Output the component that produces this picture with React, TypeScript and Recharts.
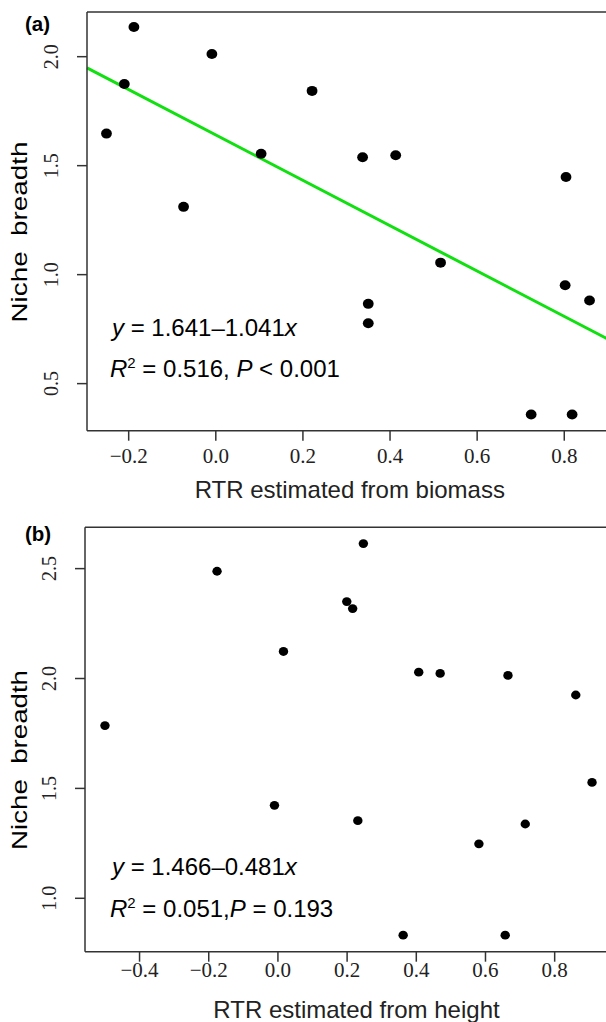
import React from 'react';
import { ScatterChart, Scatter, XAxis, YAxis, ReferenceLine } from 'recharts';

// (a) RTR estimated from biomass vs niche breadth
const biomassRTR = [-0.251, -0.21, -0.188, -0.009, 0.221, 0.104, -0.074, 0.337, 0.413, 0.804, 0.516, 0.802, 0.858, 0.35, 0.35, 0.724, 0.818];
const biomassNiche = [1.647, 1.875, 2.136, 2.012, 1.843, 1.555, 1.311, 1.539, 1.548, 1.448, 1.055, 0.951, 0.881, 0.866, 0.777, 0.358, 0.358];
const biomassFit = { intercept: 1.641, slope: -1.041 };

// (b) RTR estimated from height vs niche breadth
const heightRTR = [-0.5, -0.176, 0.016, 0.199, 0.216, 0.247, 0.407, 0.469, 0.665, 0.861, 0.908, -0.01, 0.231, 0.715, 0.581, 0.362, 0.657];
const heightNiche = [1.786, 2.488, 2.123, 2.35, 2.318, 2.614, 2.029, 2.023, 2.014, 1.925, 1.527, 1.423, 1.353, 1.338, 1.248, 0.832, 0.832];

const biomassTicks = [-0.2, 0, 0.2, 0.4, 0.6, 0.8];
const heightTicks = [-0.4, -0.2, 0, 0.2, 0.4, 0.6, 0.8];
const nicheTicksA = [0.5, 1.0, 1.5, 2.0];
const nicheTicksB = [1.0, 1.5, 2.0, 2.5];

const domainXA = [-0.2957, 0.902];
const domainYA = [0.284, 2.205];
const domainXB = [-0.5577, 0.9637];
const domainYB = [0.757, 2.688];

const SERIF = "'Liberation Serif', 'Times New Roman', serif";
const SANS = "'Liberation Sans', Arial, sans-serif";
const AXIS = '#333';
const X_AXIS_H = 40;
const Y_AXIS_W = 60;
const EDGE = 4;

const fmt = (v: number) => (v < 0 ? '\u2212' : '') + Math.abs(v).toFixed(1);

const xTick = (dy: number) => (p: any) => (
  <text x={p.x} y={p.y + dy} textAnchor="middle" fontFamily={SERIF} fontSize={21} fill="#222">
    {fmt(p.payload.value)}
  </text>
);

const yTick = (p: any) => {
  const bx = p.x - 16.5;
  return (
    <text x={bx} y={p.y} transform={`rotate(-90 ${bx} ${p.y})`} textAnchor="middle" fontFamily={SERIF} fontSize={20} fill="#222">
      {fmt(p.payload.value)}
    </text>
  );
};

const dot = (rx: number, ry: number) => (p: any) => <ellipse cx={p.cx} cy={p.cy} rx={rx} ry={ry} fill="#000" />;

// plot box given as pixel edges inside the chart; margins leave room for the axes
function Panel({ xs, ys, xDomain, yDomain, xTicks, yTicks, width, height, box, xDy, rx, ry, fit }: any) {
  const data = xs.map((x: number, i: number) => ({ x, y: ys[i] }));
  const line = fit
    ? [
        { x: xDomain[0], y: fit.intercept + fit.slope * xDomain[0] },
        { x: xDomain[1], y: fit.intercept + fit.slope * xDomain[1] },
      ]
    : null;
  const margin = {
    top: box.top - EDGE,
    left: box.left - Y_AXIS_W,
    right: width - box.right - EDGE,
    bottom: height - box.bottom - X_AXIS_H,
  };
  const frame = { stroke: AXIS, strokeWidth: 1.5 };
  return (
    <ScatterChart width={width} height={height} margin={margin}>
      <XAxis dataKey="x" type="number" domain={xDomain} ticks={xTicks} allowDataOverflow interval={0}
        height={X_AXIS_H} tickSize={10} tick={xTick(xDy)} axisLine={frame} tickLine={frame} />
      <XAxis xAxisId="top" orientation="top" type="number" domain={xDomain} allowDataOverflow height={EDGE}
        tick={false} tickLine={false} axisLine={frame} />
      <YAxis dataKey="y" type="number" domain={yDomain} ticks={yTicks} allowDataOverflow interval={0}
        width={Y_AXIS_W} tickSize={10} tick={yTick} axisLine={frame} tickLine={frame} />
      <YAxis yAxisId="right" orientation="right" type="number" domain={yDomain} allowDataOverflow width={EDGE}
        tick={false} tickLine={false} axisLine={frame} />
      <Scatter data={data} fill="#000" shape={dot(rx, ry)} isAnimationActive={false} />
      {line && <ReferenceLine segment={line} stroke="#10e010" strokeWidth={3} />}
    </ScatterChart>
  );
}

export default function App() {
  return (
    <div style={{ position: 'absolute', left: 0, top: 0, width: 606, height: 1022, overflow: 'hidden', background: '#fff' }}>
      <div style={{ position: 'absolute', left: 0, top: 0 }}>
        <Panel xs={biomassRTR} ys={biomassNiche} xDomain={domainXA} yDomain={domainYA} xTicks={biomassTicks} yTicks={nicheTicksA}
          width={640} height={505} box={{ top: 12, left: 87, right: 608.7, bottom: 430.7 }} xDy={20.6} rx={5.4} ry={5} fit={biomassFit} />
      </div>
      <div style={{ position: 'absolute', left: 0, top: 505 }}>
        <Panel xs={heightRTR} ys={heightNiche} xDomain={domainXB} yDomain={domainYB} xTicks={heightTicks} yTicks={nicheTicksB}
          width={640} height={517} box={{ top: 22.3, left: 85, right: 611.3, bottom: 446.7 }} xDy={13} rx={4.7} ry={4.4} />
      </div>
      <svg width={606} height={1022} style={{ position: 'absolute', left: 0, top: 0, pointerEvents: 'none' }}>
        <text x={25} y={31} fontFamily={SANS} fontWeight="bold" fontSize={20.5}>(a)</text>
        <text x={25} y={541} fontFamily={SANS} fontWeight="bold" fontSize={20.5}>(b)</text>

        <text x={27.3} y={232} transform="rotate(-90 27.3 232)" textAnchor="middle" fontFamily={SANS} fontSize={22}
          textLength={181} lengthAdjust="spacingAndGlyphs" style={{ whiteSpace: 'pre' }}>Niche  breadth</text>
        <text x={27.3} y={760} transform="rotate(-90 27.3 760)" textAnchor="middle" fontFamily={SANS} fontSize={22}
          textLength={180} lengthAdjust="spacingAndGlyphs" style={{ whiteSpace: 'pre' }}>Niche  breadth</text>

        <text x={349.8} y={498.3} textAnchor="middle" fontFamily={SANS} fontSize={24} fill="#222">RTR estimated from biomass</text>
        <text x={356.5} y={1018} textAnchor="middle" fontFamily={SANS} fontSize={24} fill="#222">RTR estimated from height</text>

        <text x={112} y={335.5} fontFamily={SANS} fontSize={24} style={{ whiteSpace: 'pre' }}>
          <tspan fontStyle="italic">y</tspan>{' = 1.641\u20131.041'}<tspan fontStyle="italic">x</tspan>
        </text>
        <text x={110} y={377} fontFamily={SANS} fontSize={24} style={{ whiteSpace: 'pre' }}>
          <tspan fontStyle="italic">R</tspan><tspan fontSize={15} dy={-9}>2</tspan><tspan dy={9}>{' = 0.516, '}</tspan>
          <tspan fontStyle="italic">P</tspan>{' < 0.001'}
        </text>
        <text x={112} y={875} fontFamily={SANS} fontSize={24} style={{ whiteSpace: 'pre' }}>
          <tspan fontStyle="italic">y</tspan>{' = 1.466\u20130.481'}<tspan fontStyle="italic">x</tspan>
        </text>
        <text x={110} y={917} fontFamily={SANS} fontSize={24} style={{ whiteSpace: 'pre' }}>
          <tspan fontStyle="italic">R</tspan><tspan fontSize={15} dy={-9}>2</tspan><tspan dy={9}>{' = 0.051,'}</tspan>
          <tspan fontStyle="italic">P</tspan>{' = 0.193'}
        </text>
      </svg>
    </div>
  );
}
